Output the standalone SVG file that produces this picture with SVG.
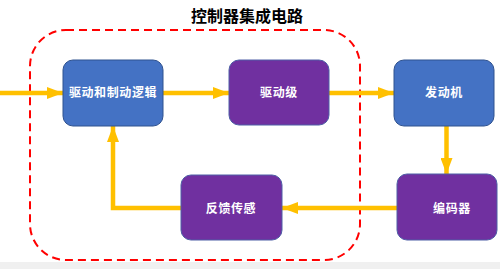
<svg xmlns="http://www.w3.org/2000/svg" width="500" height="269" viewBox="0 0 500 269">
<defs>
<style>
.blue{fill:#4472C4;stroke:#2F528F;stroke-width:1}
.purple{fill:#7030A0;stroke:#4E5FA6;stroke-width:1}
.lbl{font-family:"Noto Sans CJK SC","Liberation Sans",sans-serif;font-size:12px;font-weight:bold;fill:#ffffff;text-anchor:middle;letter-spacing:0.6px}
.title{font-family:"Noto Sans CJK SC","Liberation Sans",sans-serif;font-size:16px;font-weight:bold;fill:#000000;text-anchor:middle}
.conn{fill:none;stroke:#FFC000;stroke-width:4.5}
</style>
<marker id="ah" viewBox="0 0 16 12" refX="16" refY="6" markerWidth="16" markerHeight="12" markerUnits="userSpaceOnUse" orient="auto">
<path d="M0,0 L16,6 L0,12 Z" fill="#FFC000"/>
</marker>
</defs>
<rect width="500" height="269" fill="#ffffff"/>
<rect x="0" y="262" width="500" height="7" fill="#f0f0f0"/>
<text class="title" x="247" y="22">控制器集成电路</text>
<rect x="30" y="30" width="330" height="230" rx="36" ry="36" fill="none" stroke="#FF0000" stroke-width="2" stroke-dasharray="8,5"/>
<g id="connectors">
<path class="conn" d="M0,93 L63,93" marker-end="url(#ah)"/>
<path class="conn" d="M163,93 L229,93" marker-end="url(#ah)"/>
<path class="conn" d="M329,93 L394,93" marker-end="url(#ah)"/>
<path class="conn" d="M446.5,126 L446.5,174" marker-end="url(#ah)"/>
<path class="conn" d="M397,208 L282,208" marker-end="url(#ah)"/>
<path class="conn" d="M181,208 L113,208 L113,126" marker-end="url(#ah)"/>
</g>
<g id="node-logic">
<rect class="blue" x="63" y="60" width="100" height="66" rx="10" ry="10"/>
<text class="lbl" x="113" y="97">驱动和制动逻辑</text>
</g>
<g id="node-driver">
<rect class="purple" x="229" y="60" width="100" height="65" rx="10" ry="10"/>
<text class="lbl" x="279" y="97">驱动级</text>
</g>
<g id="node-motor">
<rect class="blue" x="394" y="60" width="100" height="66" rx="10" ry="10"/>
<text class="lbl" x="444" y="97">发动机</text>
</g>
<g id="node-encoder">
<rect class="purple" x="397" y="174" width="100" height="66" rx="10" ry="10"/>
<text class="lbl" x="452" y="213">编码器</text>
</g>
<g id="node-feedback">
<rect class="purple" x="181" y="175" width="101" height="65" rx="10" ry="10"/>
<text class="lbl" x="231" y="213">反馈传感</text>
</g>
</svg>
